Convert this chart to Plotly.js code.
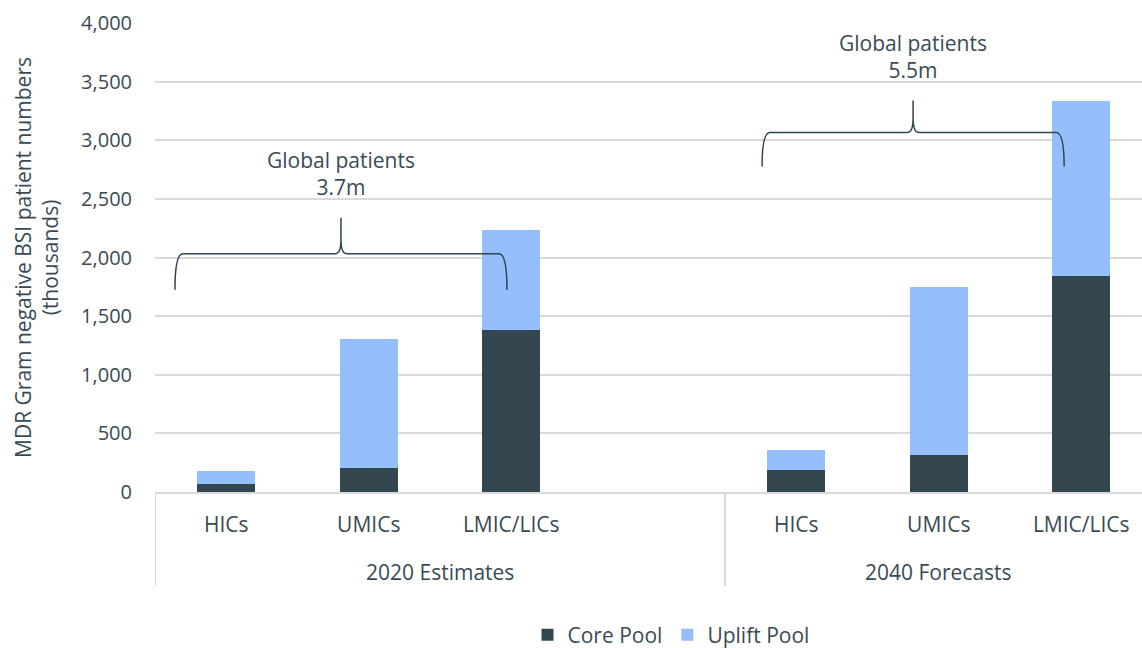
<!DOCTYPE html>
<html>
<head>
<meta charset="utf-8">
<script src="https://cdn.plot.ly/plotly-3.0.1.min.js"></script>
<style>
  html, body { margin: 0; padding: 0; background: #ffffff; }
  #chart { width: 1142px; height: 648px; }
</style>
</head>
<body>
<div id="chart"></div>
<script>
// MDR Gram negative BSI patient numbers (thousands), by income group
const periods = ['2020 Estimates', '2040 Forecasts'];
const incomeGroups = ['HICs', 'UMICs', 'LMIC/LICs'];
const corePool2020 = [71, 205, 1379];
const upliftPool2020 = [111, 1103, 854];
const corePool2040 = [191, 319, 1838];
const upliftPool2040 = [168, 1427, 1500];
const globalTotals = ['3.7m', '5.5m'];
const yTicks = [0, 500, 1000, 1500, 2000, 2500, 3000, 3500, 4000];

const TEXT = '#3a4a54';
const GRID = '#d9d9d9';
const FONT = '"Open Sans", "Noto Sans", sans-serif';
const FS = 21;

// Each period occupies a block of slots; the 2020 block keeps one spare slot
const slotsPerBlock = [4, 3];
const blockStart = [0, slotsPerBlock[0]];

const xs = [], core = [], uplift = [], labels = [];
const coreByPeriod = [corePool2020, corePool2040];
const upliftByPeriod = [upliftPool2020, upliftPool2040];
periods.forEach((p, g) => {
  incomeGroups.forEach((c, i) => {
    xs.push(blockStart[g] + i);
    labels.push(c);
    core.push(coreByPeriod[g][i]);
    uplift.push(upliftByPeriod[g][i]);
  });
});

const traces = [
  {
    type: 'bar', name: 'Core Pool', x: xs, y: core,
    width: 0.41, marker: { color: '#344751', line: { width: 0 } },
    hovertemplate: '%{y:,}<extra>Core Pool</extra>'
  },
  {
    type: 'bar', name: 'Uplift Pool', x: xs, y: uplift,
    width: 0.41, marker: { color: '#95bffc', line: { width: 0 } },
    hovertemplate: '%{y:,}<extra>Uplift Pool</extra>'
  }
];

// Geometry of the plotting area (pixels) used to size the brace details
const W = 1142, H = 648;
const M = { l: 155, r: 0, t: 23, b: 156 };
const slotPx = 142.5;
const xMin = -0.5;
const xMax = xMin + (W - M.l - M.r) / slotPx;
const yMax = 4000;
const plotH = H - M.t - M.b;
const pxX = 1 / slotPx;
const pxY = yMax / plotH;

// Curly brace spanning a block of bars, with its point at xm
function bracePath(xl, xr, xm, yBase, yBar, yTip) {
  const P = (x, y) => x.toFixed(4) + ',' + y.toFixed(2);
  return 'M' + P(xl, yBase) +
    ' C' + P(xl, yBar - 20 * pxY) + ' ' + P(xl + 1 * pxX, yBar) + ' ' + P(xl + 8 * pxX, yBar) +
    ' L' + P(xm - 6 * pxX, yBar) +
    ' Q' + P(xm, yBar) + ' ' + P(xm, yBar + 14 * pxY) +
    ' L' + P(xm, yTip) +
    ' L' + P(xm, yBar + 14 * pxY) +
    ' Q' + P(xm, yBar) + ' ' + P(xm + 6 * pxX, yBar) +
    ' L' + P(xr - 8 * pxX, yBar) +
    ' C' + P(xr - 1 * pxX, yBar) + ' ' + P(xr, yBar - 20 * pxY) + ' ' + P(xr, yBase);
}

const braces = [
  { xl: -0.36, xr: 1.97, yBase: 1726, yBar: 2033, yTip: 2340 },
  { xl: 3.76, xr: 5.88, yBase: 2776, yBar: 3066, yTip: 3339 }
];

const shapes = [];
const annotations = [];

braces.forEach((b, g) => {
  const xm = (b.xl + b.xr) / 2;
  shapes.push({
    type: 'path', xref: 'x', yref: 'y', layer: 'above',
    path: bracePath(b.xl, b.xr, xm, b.yBase, b.yBar, b.yTip),
    line: { color: '#2f4550', width: 1.5 }
  });
  annotations.push({
    xref: 'x', yref: 'y', x: xm, y: b.yTip + 44 * pxY,
    text: 'Global patients<br>' + globalTotals[g],
    showarrow: false, xanchor: 'center', yanchor: 'middle',
    font: { family: FONT, size: FS, color: TEXT }
  });
});

// Separators for the two-level category axis
const sepBottom = -(586 - (H - M.b)) / plotH;
[xMin, blockStart[1] - 0.5].forEach(x => {
  shapes.push({
    type: 'line', xref: 'x', yref: 'paper', x0: x, x1: x, y0: 0, y1: sepBottom,
    line: { color: GRID, width: 2 }
  });
});

// Period labels beneath the income-group labels
periods.forEach((p, g) => {
  const first = blockStart[g] - 0.5;
  const last = blockStart[g] + slotsPerBlock[g] - 0.5;
  annotations.push({
    xref: 'x', yref: 'paper',
    x: g === 0 ? (first + last) / 2 : blockStart[g] + 1,
    y: -(572 - (H - M.b)) / plotH,
    text: p, showarrow: false, xanchor: 'center', yanchor: 'middle',
    font: { family: FONT, size: FS, color: TEXT }
  });
});

const layout = {
  width: W, height: H,
  margin: M,
  paper_bgcolor: '#ffffff', plot_bgcolor: '#ffffff',
  barmode: 'stack',
  showlegend: true,
  font: { family: FONT, size: FS, color: TEXT },
  xaxis: {
    range: [xMin, xMax],
    tickmode: 'array', tickvals: xs, ticktext: labels,
    ticks: '', ticklabelstandoff: 13,
    showgrid: false, zeroline: false,
    showline: true, linecolor: GRID, linewidth: 2,
    tickfont: { family: FONT, size: FS, color: TEXT },
    automargin: false,
    fixedrange: true
  },
  yaxis: {
    range: [0, yMax],
    tickmode: 'array', tickvals: yTicks,
    tickformat: ',d',
    showgrid: true, gridcolor: GRID, gridwidth: 2,
    zeroline: false, showline: false, ticks: '',
    ticklabelstandoff: 22,
    tickfont: { family: FONT, size: 20, color: TEXT },
    title: {
      text: 'MDR Gram negative BSI patient numbers<br>(thousands)',
      font: { family: FONT, size: 21, color: TEXT },
      standoff: 16
    },
    automargin: false,
    fixedrange: true
  },
  legend: {
    orientation: 'h', traceorder: 'normal',
    xref: 'container', x: 671 / W, xanchor: 'center',
    yref: 'container', y: 1 - 635 / H, yanchor: 'middle',
    font: { family: FONT, size: FS, color: TEXT },
    itemwidth: 30
  },
  shapes: shapes,
  annotations: annotations
};

Plotly.newPlot('chart', traces, layout, { displayModeBar: false, staticPlot: true });
</script>
</body>
</html>
